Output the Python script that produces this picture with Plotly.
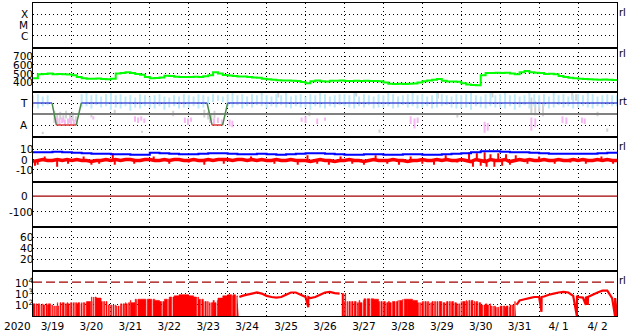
import numpy as np
import pandas as pd
import plotly.graph_objects as go
from plotly.subplots import make_subplots

START = pd.Timestamp("2020-03-19")
N_DAYS = 15
END = START + pd.Timedelta(days=N_DAYS)

# ---------------- data (3-hourly unless noted) ----------------
# Panel 2: green series
sw_val = [445, 490, 495, 500, 490, 495, 492, 488,
          480, 460, 445, 440, 438, 442, 436, 433,
          440, 500, 505, 515, 505, 495, 485, 460,
          445, 448, 455, 475, 470, 462, 458, 460,
          458, 462, 460, 468, 480, 515, 500, 482,
          478, 472, 465, 465, 460, 455, 450, 438,
          432, 428, 422, 420, 418, 416, 414, 400,
          388, 410, 420, 410, 408, 415, 415, 418,
          414, 412, 415, 413, 415, 412, 414, 410,
          395, 380, 378, 380, 378, 382, 385, 395,
          410, 418, 428, 435, 415, 408, 406, 405,
          388, 372, 366, 362, 480, 505, 505, 510,
          505, 508, 500, 490, 515, 528, 515, 508,
          505, 495, 498, 490, 470, 458, 450, 445,
          440, 435, 432, 430, 428, 430, 428, 425, 422]

# Panel 3: sector line (days, level) and scatter streaks
sector_day = [0, 0.49, 0.6, 1.11, 1.24, 4.47, 4.6, 4.87, 5.0, 15]
sector_val = [1, 1, -1, -1, 1, 1, -1, -1, 1, 1]
N = None
lb_hi = [1.7, 1.8, 1.6, 1.7, N, N, N, N,
         N, N, 1.8, 1.9, 1.7, 1.8, 1.6, 1.8,
         1.9, 1.7, 1.8, 1.6, 1.7, 1.5, 1.8, 1.7,
         1.6, 1.7, 1.8, 1.6, 1.5, 1.7, 1.6, 1.8,
         1.7, 1.6, 1.8, 1.7, 1.6, 1.8, 1.7, 1.6,
         1.8, 1.9, 1.7, 1.8, 1.6, 1.8, 1.7, 1.9,
         1.7, 1.6, 1.8, 1.7, 1.9, 1.6, 1.7, 1.8,
         1.6, 1.8, 1.7, 1.9, 1.8, 1.6, 1.7, 1.8,
         1.8, 1.7, 1.9, 1.6, 1.8, 1.7, 1.6, 1.8,
         1.7, 1.9, 1.8, 1.6, 1.7, 1.8, 1.9, 1.7,
         1.8, 1.6, 1.7, 1.9, 1.8, 1.7, 1.6, 1.8,
         1.7, 1.8, 1.9, 1.7, 1.6, 1.8, 1.9, 1.7,
         1.8, 1.9, 1.7, 1.8, 1.6, 1.7, 1.9, 1.8,
         1.7, 1.8, 1.6, 1.9, 1.7, 1.8, 1.6, 1.7,
         1.8, 1.7, 1.9, 1.8, 1.6, 1.7, 1.8, 1.7, 1.7]
lb_lo = [0.6, 0.5, 0.7, 0.8, N, N, N, N,
         N, N, 0.6, 0.7, 0.5, 0.8, 0.6, 0.7,
         0.4, 0.6, 0.5, 0.7, 0.3, 0.6, 0.5, 0.7,
         0.6, 0.5, 0.7, 0.4, 0.6, 0.7, 0.5, 0.6,
         0.6, 0.7, 0.5, 0.6, 0.9, 1.1, 1.2, 1.1,
         0.7, 0.6, 0.8, 0.5, 0.7, 0.6, 0.8, 0.7,
         0.5, 0.7, 0.6, 0.8, 0.6, 0.5, 0.7, 0.6,
         0.6, 0.4, 0.7, 0.6, 0.5, 0.7, 0.6, 0.8,
         0.7, 0.6, 0.5, 0.7, 0.6, 0.8, 0.5, 0.6,
         0.6, 0.7, 0.5, 0.6, 0.8, 0.6, 0.7, 0.5,
         0.6, 0.7, 0.5, 0.6, 0.7, 0.8, 0.6, 0.5,
         0.5, 0.6, 0.4, 0.7, 0.6, 0.5, 0.7, 0.6,
         0.6, 0.5, 0.7, 0.4, 0.6, 0.8, 0.5, 0.7,
         0.6, 0.7, 0.5, 0.6, 0.8, 0.6, 0.7, 0.5,
         0.6, 0.7, 0.6, 0.5, 0.7, 0.6, 0.8, 0.7, 0.7]
gray_day = [0.25, 0.55, 0.62, 0.7, 0.78, 0.85, 0.95, 1.02, 1.1, 1.5, 2.1, 2.8,
            3.6, 4.4, 4.5, 4.58, 4.66, 6.3, 7.1, 8.3, 8.9, 10.4, 10.9, 11.8,
            12.8, 12.9, 13.0, 13.1, 13.85, 13.95, 14.5, 14.75]
gray_hi = [-1.6, 0.3, 0.1, 0.2, -0.1, 0.3, 0.0, 0.2, -0.2, 0.1, 0.4, -1.5,
           0.3, 0.4, 0.2, 0.0, 0.3, 1.9, 0.2, 1.9, -1.4, 1.9, 0.1, 1.9,
           1.5, 1.2, 1.4, 1.0, 1.9, 1.8, 0.2, -1.3]
gray_lo = [-1.8, -0.8, -0.6, -0.5, -0.7, -0.4, -0.8, -0.6, -0.7, -0.3, 0.0, -1.7,
           -0.2, -0.3, -0.5, -0.6, -0.4, 1.5, -0.2, 1.6, -1.7, 1.4, -0.3, 1.5,
           0.1, -0.1, 0.2, -0.2, 1.3, 1.2, -0.2, -1.6]
pink_day = [0.62, 0.68, 0.75, 0.82, 0.9, 0.98, 1.05, 1.12, 1.55, 2.62, 2.7, 2.78,
            2.86, 3.9, 3.98, 4.06, 4.55, 4.65, 4.75, 4.85, 5.05, 5.12, 6.9, 7.0,
            7.3, 7.5, 9.7, 9.8, 9.88, 11.6, 11.68, 12.8, 12.9, 13.6, 13.7, 14.1, 14.17]
pink_hi = [-0.3, -0.4, -0.3, -0.5, -0.4, -0.3, -0.5, -0.6, -0.2, -0.2, -0.3, -0.2,
           -0.4, -0.3, -0.4, -0.3, -0.3, -0.4, -0.3, -0.5, -0.5, -0.6, -0.3, -0.2,
           -0.4, -0.3, -0.2, -0.4, -0.3, -0.7, -0.8, -0.3, -0.4, -0.2, -0.3, -0.3, -0.4]
pink_lo = [-0.9, -1.0, -0.8, -1.0, -0.9, -1.0, -0.9, -1.0, -0.5, -0.7, -0.8, -0.6,
           -0.8, -0.8, -1.0, -0.7, -0.8, -0.9, -0.8, -0.9, -1.1, -1.2, -0.7, -0.8,
           -0.9, -0.6, -0.9, -1.3, -0.8, -1.7, -1.5, -1.5, -1.2, -0.8, -0.9, -0.8, -0.9]

# Panel 4: blue (6-hourly), red mid line (3-hourly) and red spikes (day, value)
bt_val = [7, 7, 7.5, 7, 6.5, 6, 5.5, 5.5, 5, 5, 4.5, 4.5, 6.5, 6, 5.5, 5,
          5, 5.5, 6, 6, 5.5, 5, 5, 5.5, 5, 4.5, 5, 5.5, 6, 6, 5.5, 5,
          4.5, 4.5, 5, 5, 4.5, 4.5, 5, 5, 4.5, 4.5, 5, 5.5, 6, 7, 8, 8,
          7.5, 7, 7, 6.5, 6, 5.5, 5.5, 5.5, 5.5, 5.5, 6, 6.5, 7]
bz_mid = [-2, -1, 0, -1, -1, 0, -1, 0,
          -1, 0, -1, -1, -2, -1, -1, 0,
          -1, 0, -1, 0, 0, -1, -1, 0,
          0, -1, -1, 0, -1, 0, 0, -1,
          -1, 0, -1, -1, 0, -1, 0, 0,
          0, -1, 0, 0, -1, 0, -1, 0,
          -1, -1, 0, -1, -1, 0, -1, -1,
          -1, -2, -1, 0, -1, -1, -2, -1,
          -1, 0, -1, -1, -2, -1, 0, -1,
          -1, -1, 0, -1, -1, -2, -1, -1,
          0, -1, -1, 0, -1, 0, -1, -1,
          0, -1, -2, 0, -1, -2, 0, -1,
          -1, 0, -2, -1, 0, -1, 0, -1,
          -1, 0, -1, -1, 0, -1, -1, 0,
          -1, 0, -1, -1, 0, -1, 0, -1, -1]
bz_spk_day = [0.05, 0.12, 0.3, 0.62, 0.9, 1.3, 1.5, 1.7, 2.05, 2.1, 2.6, 3.1, 3.5,
              4.0, 4.4, 4.9, 5.6, 6.2, 6.8, 7.05, 7.3, 7.6, 7.9, 8.2, 8.5, 8.8,
              9.1, 9.4, 9.7, 10.0, 10.3, 10.6, 10.9, 11.2, 11.3, 11.4, 11.5, 11.6,
              11.65, 11.75, 11.85, 11.95, 12.05, 12.15, 12.25, 12.4, 12.7, 13.0,
              13.4, 13.8, 14.2, 14.6, 14.9]
bz_spk_val = [-6, -5, 3, -7, -4, 3, -5, -4, 6, -5, -4, 3, -4, -3, -5, -4, 3, -4, -5,
              4, -4, -5, 3, -4, -5, 4, -4, -5, 3, -4, -5, 4, -3, 7, -7, 6, -6, 7, -7,
              5, -7, 6, -6, 5, -5, 4, -4, 3, -4, -3, -4, 3, -4]

# Panel 5 / 7 reference levels
dst_ref = 0
p7_ref = 1e4

# Panel 7: red series (3-hourly), dropout times (days) and their low values,
# noisy (filled) periods
p7_val = [125, 100, 125, 100, 80,
          160, 125, 160, 160, 125, 160, 200,
          500, 400, 200,
          100, 100, 80, 125, 160,
          250, 320, 320, 320, 320, 250, 200,
          320, 500, 630, 800,
          800, 630, 500, 320,
          200, 160, 250, 400,
          630, 800, 630, 500,
          630, 800, 1000, 1250,
          1000, 630, 500, 450,
          500, 800, 1250, 1250,
          800, 500, 400, 500,
          800, 1250, 1400, 1100,
          1000, 200, 200, 160,
          250, 350, 350, 320,
          200, 160, 200, 200,
          250, 320, 320, 250,
          160, 200, 160, 200,
          200, 160, 200, 160,
          125, 200, 250, 200,
          160, 100, 125, 80,
          63, 80, 63, 100,
          200, 250, 320, 400,
          500, 500, 560, 800,
          1000, 1250, 1400, 1250,
          630, 500, 450, 500,
          800, 1250, 1800, 1800,
          400, 10]
p7_floor = 10
p7_gaps = [0.05, 0.1, 0.17, 0.22, 0.3, 0.36, 0.45, 0.5, 0.55, 0.6, 0.66, 0.72, 0.8,
           0.86, 0.93, 1.0, 1.06, 1.12, 1.2, 1.26, 1.33, 1.48, 1.52, 1.56, 1.78, 1.84,
           1.9, 1.96, 2.02, 2.08, 2.15, 2.21, 2.28, 2.35, 2.42, 2.48, 2.62, 2.66, 2.9,
           3.05, 3.3, 3.45, 3.56, 4.2, 4.3, 4.38, 4.45, 4.5, 4.55, 4.62, 4.7, 5.1, 5.2,
           7.07, 7.98, 8.03, 8.08, 8.15, 8.22, 8.3, 8.36, 8.45, 8.55, 8.65, 8.9,
           8.97, 9.05, 9.12, 9.2, 9.3, 9.38, 9.5, 9.62, 9.9, 9.95, 10.03, 10.1, 10.16,
           10.2, 10.28, 10.34, 10.4, 10.5, 10.58, 10.66, 10.72, 10.8, 10.9, 10.96, 11.0,
           11.1, 11.16, 11.22, 11.3, 11.35, 11.42, 11.55, 11.62, 11.7, 11.78, 11.82,
           11.9, 11.96, 12.05, 12.12, 12.2, 12.28, 12.35, 13.06, 13.97, 14.2, 14.25,
           14.95]
p7_spike_low = {7.07: 63, 13.06: 25, 14.2: 100, 14.25: 100}
p7_noisy = [(0.0, 5.3), (7.93, 12.42)]

# Axis label lists
p1_ticks, p1_text = [1e-4, 1e-5, 1e-6], ["X", "M", "C"]
p2_ticks = [700, 600, 500, 400]
p3_ticks, p3_text = [1, -1], ["T", "A"]
p4_ticks = [10, 0, -10]
p5_ticks = [0, -100]
p6_ticks = [60, 40, 20]
p7_ticks, p7_text = [1e4, 1e3, 1e2], ["10<sup>4</sup>", "10<sup>3</sup>", "10<sup>2</sup>"]
side_text = ["rl", "rl", "rt", "rl", "", "", "rl"]


# ---------------- helpers ----------------
def t_of(days):
    return START + pd.Timedelta(days=float(days))


def grid3h(n):
    return [START + pd.Timedelta(hours=3 * i) for i in range(n)]


def streaks(days, hi, lo):
    xs, ys = [], []
    for d, h, l in zip(days, hi, lo):
        if h is None:
            continue
        t = t_of(d)
        xs += [t, t, None]
        ys += [l, h, None]
    return xs, ys


def in_noisy(d):
    return any(a <= d < b for a, b in p7_noisy)


FONT = dict(family="DejaVu Sans", size=10.5, color="black")

fig = make_subplots(rows=7, cols=1, shared_xaxes=True, vertical_spacing=0)

# Panel 1: empty
fig.add_trace(go.Scatter(x=[START], y=[None], mode="lines"), row=1, col=1)

# Panel 2
fig.add_trace(go.Scatter(x=grid3h(len(sw_val)), y=sw_val, mode="lines",
                         line=dict(color="#00ff00", width=2, shape="hv")), row=2, col=1)

# Panel 3
lb_t = [i / 8 for i in range(len(lb_hi))]
gx, gy = streaks(gray_day, gray_hi, gray_lo)
fig.add_trace(go.Scatter(x=gx, y=gy, mode="lines", line=dict(color="#d2d2d2", width=2)), row=3, col=1)
px_, py_ = streaks(pink_day, pink_hi, pink_lo)
fig.add_trace(go.Scatter(x=px_, y=py_, mode="lines", line=dict(color="#f6b8f2", width=2)), row=3, col=1)
bx, by = streaks(lb_t, lb_hi, lb_lo)
fig.add_trace(go.Scatter(x=bx, y=by, mode="lines", line=dict(color="#bdeafa", width=2)), row=3, col=1)
fig.add_trace(go.Scatter(x=[START, END], y=[0, 0], mode="lines",
                         line=dict(color="#808080", width=2)), row=3, col=1)
for a, b, va, vb in zip(sector_day[:-1], sector_day[1:], sector_val[:-1], sector_val[1:]):
    if va == vb == 1:
        c = "#4650d8"
    elif va == vb == -1:
        c = "#e03a3a"
    else:
        c = "#4a8a4a"
    fig.add_trace(go.Scatter(x=[t_of(a), t_of(b)], y=[va, vb], mode="lines",
                             line=dict(color=c, width=1.5)), row=3, col=1)

# Panel 4
sx, sy = [], []
for d, v in zip(bz_spk_day, bz_spk_val):
    t = t_of(d)
    sx += [t, t, None]
    sy += [bz_mid[int(d * 8)], v, None]
fig.add_trace(go.Scatter(x=sx, y=sy, mode="lines", line=dict(color="#ff0000", width=2)), row=4, col=1)
fig.add_trace(go.Scatter(x=grid3h(len(bz_mid)), y=bz_mid, mode="lines",
                         line=dict(color="#ff0000", width=3.5)), row=4, col=1)
bt_x = [START + pd.Timedelta(hours=6 * i) for i in range(len(bt_val))]
fig.add_trace(go.Scatter(x=bt_x, y=bt_val, mode="lines",
                         line=dict(color="#0000ff", width=2, shape="hv")), row=4, col=1)

# Panel 5
fig.add_trace(go.Scatter(x=[START, END], y=[dst_ref, dst_ref], mode="lines",
                         line=dict(color="#a00000", width=1.2)), row=5, col=1)
# Panel 6: empty
fig.add_trace(go.Scatter(x=[START], y=[None], mode="lines"), row=6, col=1)

# Panel 7
pts = [(i / 8, v) for i, v in enumerate(p7_val)]
for g in p7_gaps:
    k = int(g * 8)
    w = 0.035 if in_noisy(g) else 0.003
    pts.append((g, p7_spike_low.get(g, p7_floor)))
    pts.append((g + w, p7_val[k]))
pts.sort(key=lambda p: p[0])


def value_at(d):
    v = pts[0][1]
    for t, y in pts:
        if t <= d:
            v = y
        else:
            break
    return v


def piece(a, b):
    sel = [(a, value_at(a))] + [p for p in pts if a < p[0] <= b]
    return [t_of(p[0]) for p in sel], [p[1] for p in sel]


bounds = sorted({0.0, float(N_DAYS)} | {x for per in p7_noisy for x in per})
for a, b in zip(bounds[:-1], bounds[1:]):
    xs, ys = piece(a, b)
    if in_noisy(a):
        fig.add_trace(go.Scatter(x=[t_of(a), t_of(b)], y=[1, 1], mode="lines",
                                 line=dict(color="rgba(0,0,0,0)", width=0)), row=7, col=1)
        fig.add_trace(go.Scatter(x=xs, y=ys, mode="lines",
                                 line=dict(color="#ff0000", width=0.6, shape="hv",
                                           simplify=False),
                                 fill="tonexty", fillcolor="#ff0000"), row=7, col=1)
    else:
        fig.add_trace(go.Scatter(x=xs, y=ys, mode="lines",
                                 line=dict(color="#ff0000", width=2.2, simplify=False)),
                      row=7, col=1)
fig.add_trace(go.Scatter(x=[START, END], y=[p7_ref, p7_ref], mode="lines",
                         line=dict(color="#a00000", width=1.2, dash="9px,4px")), row=7, col=1)

# ---------------- axes ----------------
DOT = "1px,3px"
for r in range(1, 8):
    fig.update_xaxes(row=r, col=1, type="date", range=[START, END], tick0=START,
                     dtick=86400000, showgrid=True, gridcolor="black", griddash=DOT,
                     gridwidth=1, showline=True, linecolor="black", linewidth=1,
                     mirror=True, ticks="", zeroline=False,
                     showticklabels=(r == 7), ticklabelmode="period",
                     tickformat="%-m/%e", tickfont=FONT)

yspec = {
    1: dict(type="log", range=[-7.14, -2.95], tickvals=p1_ticks),
    2: dict(range=[280, 800], tickvals=p2_ticks),
    3: dict(range=[-2.09, 1.96], tickvals=p3_ticks),
    4: dict(range=[-21.5, 21.5], tickvals=p4_ticks),
    5: dict(range=[-196, 92], tickvals=[-100]),
    6: dict(range=[-2, 80], tickvals=p6_ticks),
    7: dict(type="log", range=[1.03, 4.96], tickvals=[1e3, 1e2]),
}
for r, spec in yspec.items():
    fig.update_yaxes(row=r, col=1, showgrid=True, gridcolor="black", griddash=DOT,
                     gridwidth=1, showline=True, linecolor="black", linewidth=1,
                     mirror=True, ticks="", zeroline=False, showticklabels=False, **spec)

# y labels as annotations
labels = [
    (1, p1_ticks, p1_text, True),
    (2, p2_ticks, [str(v) for v in p2_ticks], False),
    (3, p3_ticks, p3_text, False),
    (4, p4_ticks, [str(v) for v in p4_ticks], False),
    (5, p5_ticks, [str(v) for v in p5_ticks], False),
    (6, p6_ticks, [str(v) for v in p6_ticks], False),
    (7, p7_ticks, p7_text, True),
]
annotations = []
for r, vals, texts, is_log in labels:
    yref = "y" if r == 1 else f"y{r}"
    for v, t in zip(vals, texts):
        shift = -4 if t in ("X", "M", "C", "T", "A", "0") else 1
        annotations.append(dict(xref="paper", x=0, xanchor="right", xshift=shift,
                                yref=yref, y=(np.log10(v) if is_log else v),
                                yanchor="middle", text=t, showarrow=False, font=FONT,
                                borderpad=0))

side_y = [11.5, 53, 101.5, 146, None, None, 281]
for t, ypx in zip(side_text, side_y):
    if t:
        annotations.append(dict(xref="paper", x=1, xanchor="left", xshift=0,
                                yref="paper", y=(317 - ypx) / 315, yanchor="middle",
                                text=t, showarrow=False,
                                font=dict(family="DejaVu Sans", size=10, color="black")))
annotations.append(dict(xref="paper", x=0, xanchor="right", xshift=0,
                        yref="paper", y=0, yanchor="top", yshift=-2,
                        text="2020", showarrow=False, font=FONT))

fig.update_layout(width=633, height=334, margin=dict(l=33, r=16, t=2, b=17),
                  paper_bgcolor="white", plot_bgcolor="white", showlegend=False,
                  annotations=annotations, font=FONT)

fig.write_html("out.html")
